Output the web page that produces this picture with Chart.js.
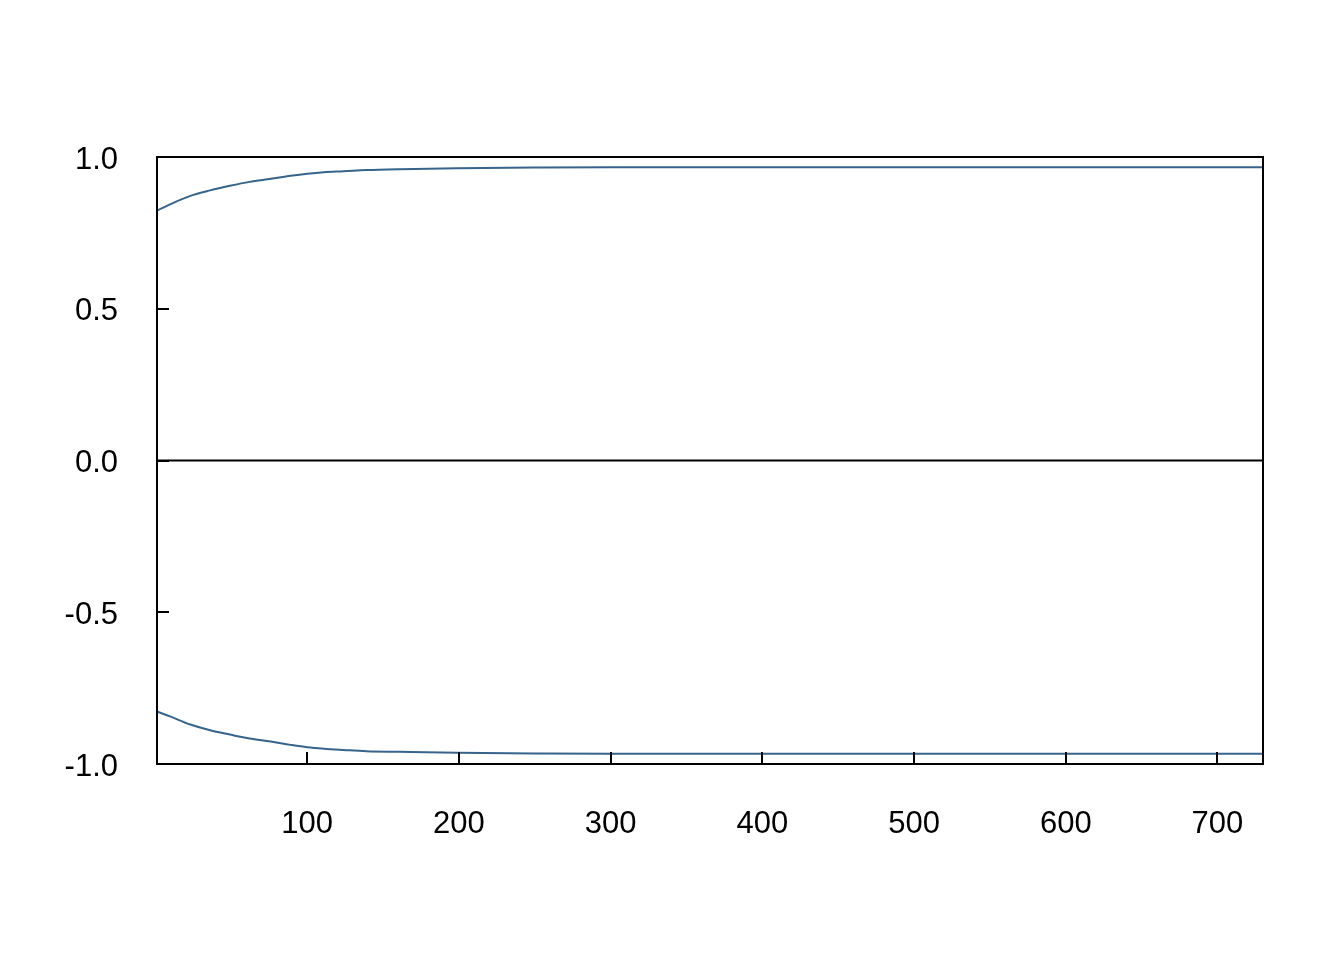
<!DOCTYPE html>
<html>
<head>
<meta charset="utf-8">
<script src="https://cdn.jsdelivr.net/npm/chart.js@4"></script>
<style>
  html, body { margin: 0; padding: 0; background: #fff; }
  #wrap { width: 1344px; height: 960px; }
</style>
</head>
<body>
<div id="wrap"><canvas id="myChart" width="1344" height="960"></canvas></div>
<script>
// data
var lagValues = [1, 10, 23, 36, 49, 62, 76, 89, 100, 111, 124, 139, 161, 199, 250, 300, 400, 500, 600, 730];
var upperBound = [0.823, 0.845, 0.872, 0.890, 0.905, 0.918, 0.928, 0.938, 0.945, 0.950, 0.953, 0.957, 0.960, 0.963, 0.965, 0.966, 0.966, 0.966, 0.966, 0.966];
var lowerBound = [-0.827, -0.844, -0.870, -0.889, -0.903, -0.916, -0.926, -0.937, -0.945, -0.950, -0.954, -0.958, -0.960, -0.963, -0.965, -0.966, -0.966, -0.966, -0.966, -0.966];
var xTicks = [100, 200, 300, 400, 500, 600, 700];
var yTicks = [-1.0, -0.5, 0.0, 0.5, 1.0];

var lineColor = '#36648b';

// khung kiểu R: khung đen, vạch chia hướng vào trong
var frame = {
    id: 'frame',
    afterDatasetsDraw(chart) {
        var ctx = chart.ctx, a = chart.chartArea;
        var xs = chart.scales.x, ys = chart.scales.y;
        ctx.save();
        ctx.strokeStyle = '#000';
        ctx.lineWidth = 2;
        // zero line
        var y0 = ys.getPixelForValue(0);
        ctx.beginPath();
        ctx.moveTo(a.left, y0);
        ctx.lineTo(a.right, y0);
        ctx.stroke();
        ctx.strokeRect(a.left, a.top, a.right - a.left, a.bottom - a.top);
        ctx.beginPath();
        for (var v of xTicks) {
            var px = Math.round(xs.getPixelForValue(v));
            ctx.moveTo(px, a.bottom);
            ctx.lineTo(px, a.bottom - 12);
        }
        for (var v of yTicks) {
            var py = Math.round(ys.getPixelForValue(v));
            ctx.moveTo(a.left, py);
            ctx.lineTo(a.left + 12, py);
        }
        ctx.stroke();
        ctx.restore();
    }
};

function toPoints(xv, yv) {
    return xv.map((x, i) => ({ x: x, y: yv[i] }));
}

const ctx = document.getElementById('myChart');
new Chart(ctx, {
    type: 'line',
    data: {
        datasets: [{
            data: toPoints(lagValues, upperBound),
            borderColor: lineColor,
            borderWidth: 2,
            pointRadius: 0,
            cubicInterpolationMode: 'monotone',
            fill: false
        }, {
            data: toPoints(lagValues, lowerBound),
            borderColor: lineColor,
            borderWidth: 2,
            pointRadius: 0,
            cubicInterpolationMode: 'monotone',
            fill: false
        }]
    },
    options: {
        responsive: false,
        animation: false,
        layout: { padding: { top: 157, right: 81, left: 0, bottom: 0 } },
        plugins: { legend: { display: false }, tooltip: { enabled: false } },
        scales: {
            x: {
                type: 'linear',
                min: 1,
                max: 730,
                afterBuildTicks: s => { s.ticks = xTicks.map(v => ({ value: v })); },
                afterFit: s => { s.height = 196; },
                grid: { display: false, drawTicks: false },
                border: { display: false },
                ticks: {
                    color: '#000',
                    padding: 42,
                    maxRotation: 0,
                    autoSkip: false,
                    font: { family: 'Liberation Sans, Arial, sans-serif', size: 31 }
                }
            },
            y: {
                type: 'linear',
                min: -1,
                max: 1,
                afterBuildTicks: s => { s.ticks = yTicks.map(v => ({ value: v })); },
                afterFit: s => { s.width = 157; },
                grid: { display: false, drawTicks: false },
                border: { display: false },
                ticks: {
                    color: '#000',
                    padding: 39,
                    labelOffset: 3,
                    autoSkip: false,
                    callback: v => v.toFixed(1),
                    font: { family: 'Liberation Sans, Arial, sans-serif', size: 31 }
                }
            }
        }
    },
    plugins: [frame]
});
</script>
</body>
</html>
